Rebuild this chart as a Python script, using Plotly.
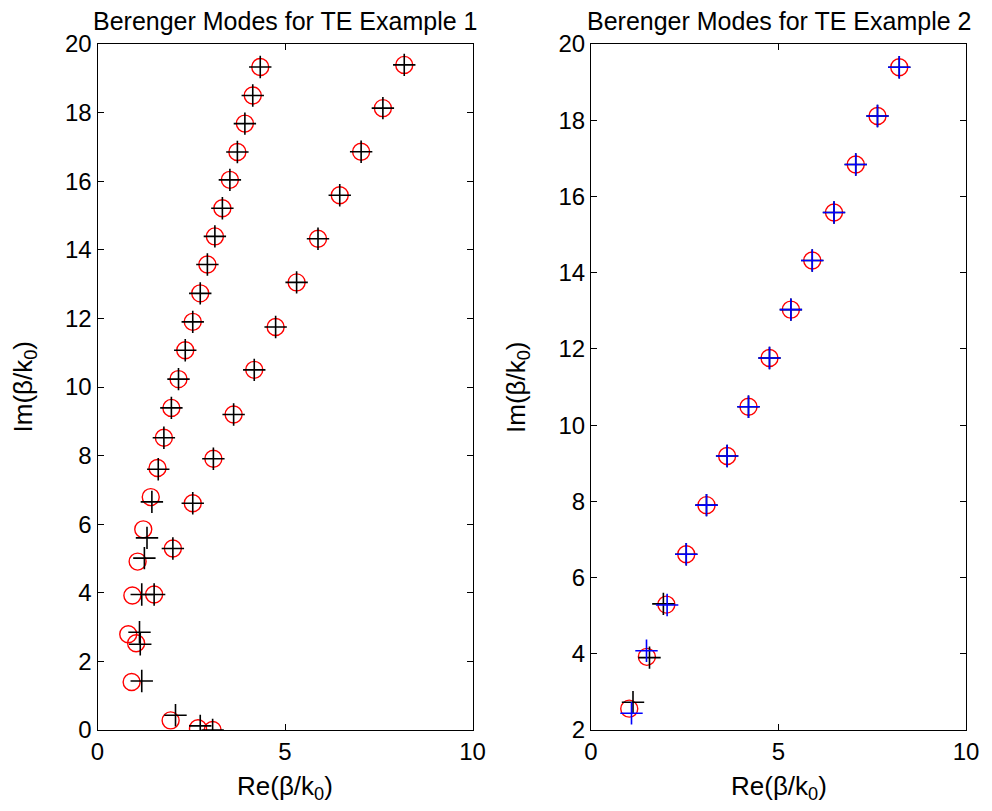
import plotly.graph_objects as go

# ---- Example 1 (left panel) ----
ex1_circle_re = [4.34, 4.14, 3.93, 3.73, 3.53, 3.33, 3.13, 2.93, 2.74, 2.54, 2.34, 2.16, 1.97, 1.77, 1.60,
                 1.42, 1.22, 1.07, 0.93, 0.82, 1.03, 0.91, 1.95, 2.68, 3.07,
                 1.51, 2.01, 2.54, 3.09, 3.63, 4.18, 4.75, 5.31, 5.88, 6.46, 7.03, 7.61, 8.18]
ex1_circle_im = [19.33, 18.50, 17.68, 16.85, 16.04, 15.21, 14.39, 13.57, 12.73, 11.90, 11.07, 10.23, 9.39, 8.52, 7.64,
                 6.79, 5.85, 4.91, 3.92, 2.79, 2.53, 1.40, 0.28, 0.05, 0.00,
                 3.95, 5.29, 6.61, 7.91, 9.20, 10.50, 11.75, 13.05, 14.32, 15.59, 16.86, 18.13, 19.39]
ex1_plus_re = [4.34, 4.14, 3.93, 3.73, 3.53, 3.33, 3.13, 2.93, 2.74, 2.54, 2.34, 2.16, 1.97, 1.77, 1.62,
               1.45, 1.32, 1.25, 1.18, 1.12, 1.14, 1.18, 2.08, 2.74, 3.07,
               1.51, 2.01, 2.54, 3.09, 3.63, 4.18, 4.75, 5.31, 5.88, 6.46, 7.03, 7.61, 8.18]
ex1_plus_im = [19.33, 18.50, 17.68, 16.85, 16.04, 15.21, 14.39, 13.57, 12.73, 11.90, 11.07, 10.23, 9.39, 8.52, 7.60,
               6.65, 5.60, 5.01, 3.95, 2.85, 2.50, 1.43, 0.43, 0.12, 0.00,
               3.95, 5.29, 6.61, 7.91, 9.20, 10.50, 11.75, 13.05, 14.32, 15.59, 16.86, 18.13, 19.39]

# ---- Example 2 (right panel) ----
ex2_circle_re = [1.02, 1.49, 2.01, 2.54, 3.08, 3.63, 4.20, 4.76, 5.33, 5.90, 6.48, 7.06, 7.64, 8.22]
ex2_circle_im = [2.56, 3.92, 5.29, 6.61, 7.90, 9.19, 10.48, 11.76, 13.03, 14.32, 15.58, 16.84, 18.11, 19.39]
ex2_black_re = [1.12, 1.56, 1.93, 2.54, 3.08, 3.63, 4.20, 4.76, 5.33, 5.90, 6.48, 7.06, 7.64, 8.22]
ex2_black_im = [2.73, 3.90, 5.31, 6.61, 7.90, 9.19, 10.48, 11.76, 13.03, 14.32, 15.58, 16.84, 18.11, 19.39]
ex2_blue_re = [1.08, 1.48, 2.03, 2.54, 3.08, 3.63, 4.20, 4.76, 5.33, 5.90, 6.48, 7.06, 7.64, 8.22]
ex2_blue_im = [2.44, 4.08, 5.28, 6.61, 7.90, 9.19, 10.48, 11.76, 13.03, 14.32, 15.58, 16.84, 18.11, 19.39]

titles = ["Berenger Modes for TE Example 1", "Berenger Modes for TE Example 2"]
x_label = "Re(β/k<sub>0</sub>)"
y_label = "Im(β/k<sub>0</sub>)"
x_ticks = [0, 5, 10]
y_ticks1 = list(range(0, 21, 2))
y_ticks2 = list(range(2, 21, 2))

FONT = "Liberation Sans, Arial, Helvetica, sans-serif"
W, H = 992, 811
OFF = 8  # page body margin

fig = go.Figure()

circle_m = dict(symbol="circle-open", size=17, color="red", line=dict(color="red", width=1.4))
def plus_m(c):
    return dict(symbol="cross-thin-open", size=16, color=c, line=dict(color=c, width=1.6))

fig.add_trace(go.Scatter(x=ex1_circle_re, y=ex1_circle_im, mode="markers", marker=circle_m,
                         xaxis="x", yaxis="y", showlegend=False))
fig.add_trace(go.Scatter(x=ex1_plus_re, y=ex1_plus_im, mode="markers", marker=plus_m("black"),
                         xaxis="x", yaxis="y", showlegend=False))
fig.add_trace(go.Scatter(x=ex2_circle_re, y=ex2_circle_im, mode="markers", marker=circle_m,
                         xaxis="x2", yaxis="y2", showlegend=False))
fig.add_trace(go.Scatter(x=ex2_black_re, y=ex2_black_im, mode="markers", marker=plus_m("black"),
                         xaxis="x2", yaxis="y2", showlegend=False))
fig.add_trace(go.Scatter(x=ex2_blue_re, y=ex2_blue_im, mode="markers", marker=plus_m("blue"),
                         xaxis="x2", yaxis="y2", showlegend=False))

# pixel geometry (in screen pixels)
L1, R1 = 97.5, 472.5
L2, R2 = 591.0, 966.0
TOP, BOT = 44.0, 730.0
PW, PH = R1 - L1, BOT - TOP

def px_x(v):
    return (v - OFF) / W
def px_y(v):
    return 1 - (v - OFF) / H

axis_common = dict(showgrid=False, zeroline=False, showline=True, linecolor="black", linewidth=1,
                   mirror="ticks", ticks="inside", ticklen=6, tickcolor="black", tickwidth=1,
                   automargin=False,
                   tickfont=dict(family=FONT, size=24, color="black"))

fig.update_layout(
    width=W, height=H,
    margin=dict(l=0, r=0, t=0, b=0, autoexpand=False),
    paper_bgcolor="white", plot_bgcolor="white",
    xaxis=dict(domain=[px_x(L1), px_x(R1)], range=[0, 10], tickvals=x_ticks, anchor="y", **axis_common),
    yaxis=dict(domain=[px_y(BOT), px_y(TOP)], range=[0, 20], tickvals=y_ticks1, anchor="x", **axis_common),
    xaxis2=dict(domain=[px_x(L2), px_x(R2)], range=[0, 10], tickvals=x_ticks, anchor="y2", **axis_common),
    yaxis2=dict(domain=[px_y(BOT), px_y(TOP)], range=[2, 20], tickvals=y_ticks2, anchor="x2", **axis_common),
)

ann = []
for i, t in enumerate(titles):
    xs = "x" if i == 0 else "x2"
    ys = "y" if i == 0 else "y2"
    ann.append(dict(text=t, x=0.5, y=(BOT - 21) / PH, xref=xs + " domain", yref=ys + " domain",
                    xanchor="center", yanchor="middle", showarrow=False,
                    font=dict(family=FONT, size=25, color="black")))
    ann.append(dict(text=x_label, x=0.5, y=(BOT - 787) / PH, xref=xs + " domain", yref=ys + " domain",
                    xanchor="center", yanchor="middle", showarrow=False,
                    font=dict(family=FONT, size=26, color="black")))
    ann.append(dict(text=y_label, x=-74 / PW, y=0.5, xref=xs + " domain", yref=ys + " domain",
                    xanchor="center", yanchor="middle", showarrow=False, textangle=-90,
                    font=dict(family=FONT, size=26, color="black")))
fig.update_layout(annotations=ann)

fig.write_html("out.html")
